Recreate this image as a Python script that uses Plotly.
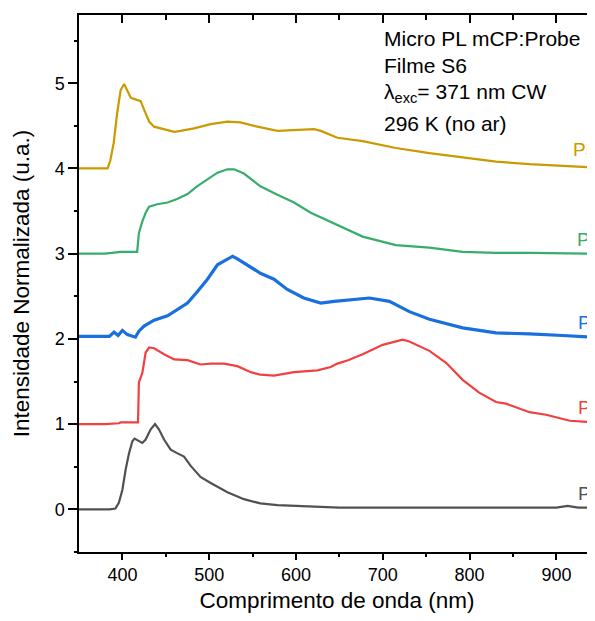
import plotly.graph_objects as go

# ---------------- data ----------------
p1_x = [350, 370, 385, 392, 396, 400, 403.8, 407.7, 411.5, 414, 419, 423, 426.8, 432.6, 437.6, 442, 448, 455.6, 463, 471, 478.7, 490, 501.7, 521, 540, 559, 578.6, 617, 650, 700, 750, 800, 850, 900, 913, 925, 944]
p1_y = [0.0, 0.0, 0.0, 0.01, 0.08, 0.23, 0.47, 0.66, 0.80, 0.83, 0.80, 0.78, 0.82, 0.94, 1.00, 0.94, 0.82, 0.70, 0.66, 0.62, 0.51, 0.38, 0.31, 0.20, 0.12, 0.07, 0.05, 0.03, 0.02, 0.02, 0.02, 0.02, 0.02, 0.02, 0.04, 0.02, 0.02]

p2_x = [350, 380, 396, 398, 410, 418, 419, 423, 426.8, 430.8, 436.5, 448, 459.6, 475, 490, 501.7, 517, 532.5, 548, 559, 574.6, 597.8, 624.6, 640, 647.6, 660, 676.8, 699.9, 722.9, 730.6, 753.7, 772.9, 792, 811, 830.5, 842, 869, 888, 915.6, 944]
p2_y = [1.0, 1.0, 1.01, 1.02, 1.02, 1.02, 1.49, 1.60, 1.84, 1.90, 1.89, 1.82, 1.76, 1.75, 1.70, 1.71, 1.71, 1.68, 1.61, 1.58, 1.57, 1.61, 1.63, 1.67, 1.71, 1.75, 1.82, 1.93, 1.99, 1.97, 1.86, 1.72, 1.52, 1.37, 1.26, 1.24, 1.14, 1.11, 1.04, 1.02]

p3_x = [350, 370, 385, 390.4, 395, 400, 405.8, 415, 419, 425, 436.5, 452, 463, 475, 486, 498, 509.5, 521, 527, 532.5, 544, 559, 574.6, 590, 609, 628.5, 644, 661.6, 684.6, 707.6, 730.6, 753.7, 792, 830.5, 869, 907, 944]
p3_y = [2.03, 2.03, 2.03, 2.08, 2.04, 2.10, 2.05, 2.02, 2.09, 2.15, 2.22, 2.27, 2.34, 2.42, 2.55, 2.70, 2.87, 2.93, 2.97, 2.94, 2.87, 2.77, 2.70, 2.58, 2.48, 2.42, 2.44, 2.46, 2.48, 2.44, 2.32, 2.23, 2.13, 2.07, 2.06, 2.04, 2.02]

p4_x = [350, 380, 398, 417, 419, 423, 426.8, 430.8, 440, 452, 463, 475, 486, 498, 509.5, 521, 528.7, 540, 559, 578.6, 597.8, 617, 638.5, 661.6, 676.8, 715, 753.7, 792, 830.5, 870, 944]
p4_y = [3.0, 3.0, 3.02, 3.02, 3.24, 3.38, 3.48, 3.55, 3.58, 3.60, 3.64, 3.70, 3.79, 3.87, 3.95, 3.99, 3.99, 3.94, 3.79, 3.69, 3.60, 3.48, 3.38, 3.28, 3.20, 3.10, 3.07, 3.02, 3.01, 3.01, 3.0]

p5_x = [350, 370, 383, 386, 390, 394, 398, 402, 405.7, 409.6, 415, 421, 425, 430.8, 436.5, 448, 459.6, 467, 482.6, 501.7, 521, 536, 555.5, 578.6, 597.8, 620.8, 628.5, 640, 647.7, 676.8, 715, 753.7, 792, 830.5, 869, 907, 944]
p5_y = [4.0, 4.0, 4.0, 4.09, 4.30, 4.65, 4.92, 4.99, 4.92, 4.83, 4.81, 4.79, 4.69, 4.55, 4.49, 4.46, 4.43, 4.44, 4.47, 4.52, 4.55, 4.54, 4.49, 4.44, 4.45, 4.46, 4.44, 4.39, 4.36, 4.32, 4.24, 4.18, 4.13, 4.08, 4.05, 4.03, 4.01]

series_names = ["P1", "P2", "P3", "P4", "P5"]
series_colors = ["#515151", "#F14040", "#1A6FDF", "#37AD6B", "#CC9900"]
label_pos_x = [922, 923, 922, 921, 917]
label_pos_y = [0.19, 1.20, 2.19, 3.17, 4.22]

info_lines = ["Micro PL mCP:Probe", "Filme S6", "λ<sub>exc</sub>= 371 nm CW", "296 K (no ar)"]

x_title = "Comprimento de onda (nm)"
y_title = "Intensidade Normalizada (u.a.)"

# ---------------- figure ----------------
FONT = "Liberation Sans, Arial, sans-serif"
W, H = 587, 605          # page body has an 8px margin
L, T, B = 71, 7, 61      # plot area: page x 79..595, y 15..552
fig = go.Figure()
xs = [p1_x, p2_x, p3_x, p4_x, p5_x]
ys = [p1_y, p2_y, p3_y, p4_y, p5_y]
widths = [2.2, 2.2, 3.2, 2.2, 2.2]
for name, x, y, c, w in zip(series_names, xs, ys, series_colors, widths):
    fig.add_trace(go.Scatter(x=x, y=y, mode="lines", name=name,
                             line=dict(color=c, width=w), showlegend=False))

# invisible trace for the top axis
fig.add_trace(go.Scatter(x=[400], y=[0], xaxis="x2", mode="markers",
                         marker=dict(opacity=0), showlegend=False, hoverinfo="skip"))

annotations = []
for name, c, lx, ly in zip(series_names, series_colors, label_pos_x, label_pos_y):
    annotations.append(dict(x=lx, y=ly, xref="x", yref="y", text=name, showarrow=False,
                            xanchor="left", yanchor="middle",
                            font=dict(family=FONT, size=19, color=c)))

plot_w = W - L
plot_h = H - T - B
info_page_y = [38, 65, 93, 123]
for t, py in zip(info_lines, info_page_y):
    annotations.append(dict(x=(382 - 79) / plot_w, y=(552 - py) / plot_h,
                            xref="paper", yref="paper",
                            text=t, showarrow=False, xanchor="left", yanchor="middle",
                            font=dict(family=FONT, size=21, color="black")))

x_end = 350 + plot_w / 0.868

fig.update_layout(
    width=W, height=H,
    margin=dict(l=L, r=0, t=T, b=B, pad=0, autoexpand=False),
    plot_bgcolor="white", paper_bgcolor="white",
    font=dict(family=FONT, size=18, color="black"),
    xaxis=dict(range=[350, x_end], showline=True, linecolor="black", linewidth=1.5,
               ticks="outside", ticklen=6, tickwidth=1.5, tickcolor="black",
               tickvals=[400, 500, 600, 700, 800, 900], showgrid=False, zeroline=False,
               automargin=False,
               minor=dict(ticks="outside", ticklen=3, tickwidth=1.5, tickcolor="black",
                          tickvals=[450, 550, 650, 750, 850]),
               title=dict(text=x_title, font=dict(size=22.5), standoff=13),
               tickfont=dict(size=18)),
    xaxis2=dict(range=[350, x_end], overlaying="x", side="top", showline=True,
                linecolor="black", linewidth=1.5, ticks="inside", ticklen=8, tickwidth=1.5,
                tickcolor="black", tickvals=[400, 500, 600, 700, 800, 900],
                showticklabels=False, showgrid=False, zeroline=False, automargin=False,
                minor=dict(ticks="inside", ticklen=5, tickwidth=1.5, tickcolor="black",
                           tickvals=[450, 550, 650, 750, 850])),
    yaxis=dict(range=[-0.5, 5.8], showline=True, linecolor="black", linewidth=1.5,
               ticks="outside", ticklen=9, tickwidth=1.5, tickcolor="black",
               tickvals=[0, 1, 2, 3, 4, 5], showgrid=False, zeroline=False,
               automargin=False,
               minor=dict(ticks="outside", ticklen=3, tickwidth=1.5, tickcolor="black",
                          tickvals=[-0.5, 0.5, 1.5, 2.5, 3.5, 4.5, 5.5]),
               title=dict(text=y_title, font=dict(size=22.5), standoff=19),
               tickfont=dict(size=18)),
    annotations=annotations,
)

fig.write_html("out.html")
